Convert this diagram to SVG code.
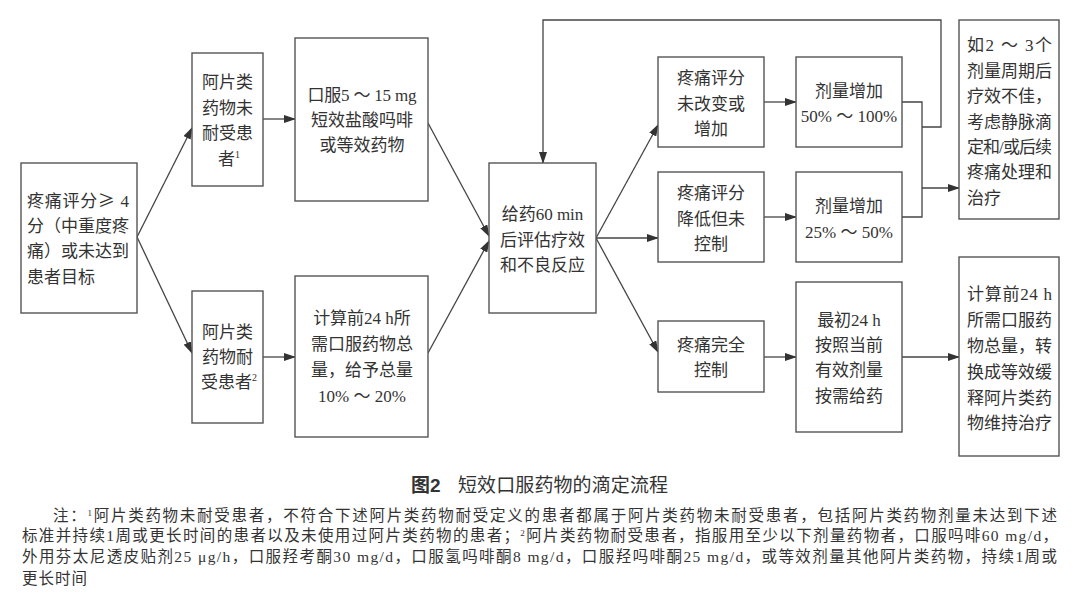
<svg xmlns="http://www.w3.org/2000/svg" width="1080" height="607" viewBox="0 0 1080 607">
<defs>
<marker id="ah" markerWidth="12" markerHeight="8" refX="11" refY="4" orient="auto" markerUnits="userSpaceOnUse">
<path d="M0,0 L12,4 L0,8 Z" fill="#333"/>
</marker>
<style>
.box{fill:#fff;stroke:#555;stroke-width:1.4}
.t{font-family:"Liberation Serif","Noto Sans CJK SC",serif;font-size:17px;fill:#333}
.m{text-anchor:middle}
.sup{font-size:10px}
.c{fill:none;stroke:#444;stroke-width:1.3}
.note{font-family:"Liberation Serif","Noto Sans CJK SC",serif;font-size:15.5px;fill:#333}
.cap{font-family:"Liberation Sans","Noto Sans CJK SC",sans-serif;font-size:19px;fill:#333}
.cjk{font-family:"Noto Sans CJK SC",sans-serif}
</style>
</defs>
<rect width="1080" height="607" fill="#fff"/>

<g id="connectors">
<line class="c" x1="137" y1="237" x2="192" y2="128" marker-end="url(#ah)"/>
<line class="c" x1="137" y1="237" x2="192" y2="353" marker-end="url(#ah)"/>
<line class="c" x1="263" y1="119" x2="295" y2="119" marker-end="url(#ah)"/>
<line class="c" x1="263" y1="357" x2="295" y2="357" marker-end="url(#ah)"/>
<line class="c" x1="428" y1="123" x2="489" y2="236" marker-end="url(#ah)"/>
<line class="c" x1="428" y1="353" x2="489" y2="241" marker-end="url(#ah)"/>
<polyline class="c" points="922,127 941,127 941,20 543,20 543,163" marker-end="url(#ah)"/>
<line class="c" x1="596" y1="238" x2="658" y2="125" marker-end="url(#ah)"/>
<line class="c" x1="596" y1="238" x2="658" y2="238" marker-end="url(#ah)"/>
<line class="c" x1="596" y1="238" x2="658" y2="352" marker-end="url(#ah)"/>
<line class="c" x1="764" y1="102" x2="796" y2="102" marker-end="url(#ah)"/>
<line class="c" x1="764" y1="217" x2="796" y2="217" marker-end="url(#ah)"/>
<line class="c" x1="764" y1="357" x2="796" y2="357" marker-end="url(#ah)"/>
<polyline class="c" points="902,102 922,102 922,217 902,217"/>
<line class="c" x1="922" y1="188" x2="959" y2="188" marker-end="url(#ah)"/>
<line class="c" x1="902" y1="357" x2="959" y2="357" marker-end="url(#ah)"/>
</g>

<g id="start">
<rect class="box" x="21" y="163" width="116" height="150"/>
<text class="t" x="27" y="207" textLength="102" lengthAdjust="spacing">疼痛评分<tspan class="cjk">≥</tspan> 4</text>
<text class="t" x="27" y="232" textLength="102" lengthAdjust="spacing">分（中重度疼</text>
<text class="t" x="27" y="257" textLength="102" lengthAdjust="spacing">痛）或未达到</text>
<text class="t" x="27" y="283">患者目标</text>
</g>

<g id="naive">
<rect class="box" x="192" y="53" width="71" height="133"/>
<text class="t m" x="227.5" y="88">阿片类</text>
<text class="t m" x="227.5" y="113.5">药物未</text>
<text class="t m" x="227.5" y="139">耐受患</text>
<text class="t m" x="229" y="164.5">者<tspan class="sup" dy="-7">1</tspan></text>
</g>

<g id="tolerant">
<rect class="box" x="192" y="291" width="71" height="132"/>
<text class="t m" x="227.5" y="338">阿片类</text>
<text class="t m" x="227.5" y="363">药物耐</text>
<text class="t m" x="229" y="388">受患者<tspan class="sup" dy="-7">2</tspan></text>
</g>

<g id="oral-short">
<rect class="box" x="295" y="38" width="133" height="163"/>
<text class="t m" x="362" y="101" textLength="109" lengthAdjust="spacing">口服5 ～ 15 mg</text>
<text class="t m" x="362" y="126">短效盐酸吗啡</text>
<text class="t m" x="362" y="151">或等效药物</text>
</g>

<g id="calc10">
<rect class="box" x="295" y="276" width="133" height="161"/>
<text class="t m" x="362" y="323.5">计算前24 h所</text>
<text class="t m" x="362" y="350">需口服药物总</text>
<text class="t m" x="362" y="376">量，给予总量</text>
<text class="t m" x="362" y="402">10% ～ 20%</text>
</g>

<g id="assess">
<rect class="box" x="489" y="163" width="107" height="150"/>
<text class="t m" x="542.5" y="219.5">给药60 min</text>
<text class="t m" x="542.5" y="245.5">后评估疗效</text>
<text class="t m" x="542.5" y="271">和不良反应</text>
</g>

<g id="unchanged">
<rect class="box" x="658" y="57" width="106" height="90"/>
<text class="t m" x="711" y="83.5">疼痛评分</text>
<text class="t m" x="711" y="109.5">未改变或</text>
<text class="t m" x="711" y="134.5">增加</text>
</g>

<g id="reduced">
<rect class="box" x="658" y="172" width="106" height="90"/>
<text class="t m" x="711" y="199">疼痛评分</text>
<text class="t m" x="711" y="224.5">降低但未</text>
<text class="t m" x="711" y="249.5">控制</text>
</g>

<g id="controlled">
<rect class="box" x="658" y="321" width="106" height="71"/>
<text class="t m" x="711" y="350.5">疼痛完全</text>
<text class="t m" x="711" y="376">控制</text>
</g>

<g id="inc100">
<rect class="box" x="796" y="57" width="106" height="90"/>
<text class="t m" x="849" y="97">剂量增加</text>
<text class="t m" x="849" y="122">50% ～ 100%</text>
</g>

<g id="inc50">
<rect class="box" x="796" y="172" width="106" height="90"/>
<text class="t m" x="849" y="212">剂量增加</text>
<text class="t m" x="849" y="238">25% ～ 50%</text>
</g>

<g id="first24">
<rect class="box" x="796" y="282" width="106" height="150"/>
<text class="t m" x="849" y="325.5">最初24 h</text>
<text class="t m" x="849" y="350.5">按照当前</text>
<text class="t m" x="849" y="376">有效剂量</text>
<text class="t m" x="849" y="402">按需给药</text>
</g>

<g id="iv">
<rect class="box" x="959" y="20" width="100" height="199"/>
<text class="t" x="967" y="51" textLength="85" lengthAdjust="spacing">如2 ～ 3个</text>
<text class="t" x="967" y="76.5" textLength="85" lengthAdjust="spacing">剂量周期后</text>
<text class="t" x="967" y="102" textLength="85" lengthAdjust="spacing">疗效不佳，</text>
<text class="t" x="967" y="127.5" textLength="85" lengthAdjust="spacing">考虑静脉滴</text>
<text class="t" x="967" y="152.5" textLength="85" lengthAdjust="spacing">定和/或后续</text>
<text class="t" x="967" y="178" textLength="85" lengthAdjust="spacing">疼痛处理和</text>
<text class="t" x="967" y="203.5">治疗</text>
</g>

<g id="sustained">
<rect class="box" x="959" y="257" width="100" height="199"/>
<text class="t" x="967" y="300" textLength="85" lengthAdjust="spacing">计算前24 h</text>
<text class="t" x="967" y="326" textLength="85" lengthAdjust="spacing">所需口服药</text>
<text class="t" x="967" y="352" textLength="85" lengthAdjust="spacing">物总量，转</text>
<text class="t" x="967" y="378" textLength="85" lengthAdjust="spacing">换成等效缓</text>
<text class="t" x="967" y="403.5" textLength="85" lengthAdjust="spacing">释阿片类药</text>
<text class="t" x="967" y="429" textLength="85" lengthAdjust="spacing">物维持治疗</text>
</g>

<g id="caption">
<text class="cap" x="411" y="492" font-weight="bold">图2</text>
<text class="cap" x="458" y="492" textLength="210" lengthAdjust="spacing">短效口服药物的滴定流程</text>
</g>

<g id="notes">
<text class="note" x="53" y="520.5" textLength="1004" lengthAdjust="spacing">注：<tspan font-size="9" dy="-5">1</tspan><tspan dy="5">阿片类药物未耐受患者，不符合下述阿片类药物耐受定义的患者都属于阿片类药物未耐受患者，包括阿片类药物剂量未达到下述</tspan></text>
<text class="note" x="22" y="541" textLength="1036" lengthAdjust="spacing">标准并持续1周或更长时间的患者以及未使用过阿片类药物的患者；<tspan font-size="9" dy="-5">2</tspan><tspan dy="5">阿片类药物耐受患者，指服用至少以下剂量药物者，口服吗啡60 mg/d，</tspan></text>
<text class="note" x="22" y="562" textLength="1035" lengthAdjust="spacing">外用芬太尼透皮贴剂25 μg/h，口服羟考酮30 mg/d，口服氢吗啡酮8 mg/d，口服羟吗啡酮25 mg/d，或等效剂量其他阿片类药物，持续1周或</text>
<text class="note" x="22" y="583.5" letter-spacing="1">更长时间</text>
</g>
</svg>
